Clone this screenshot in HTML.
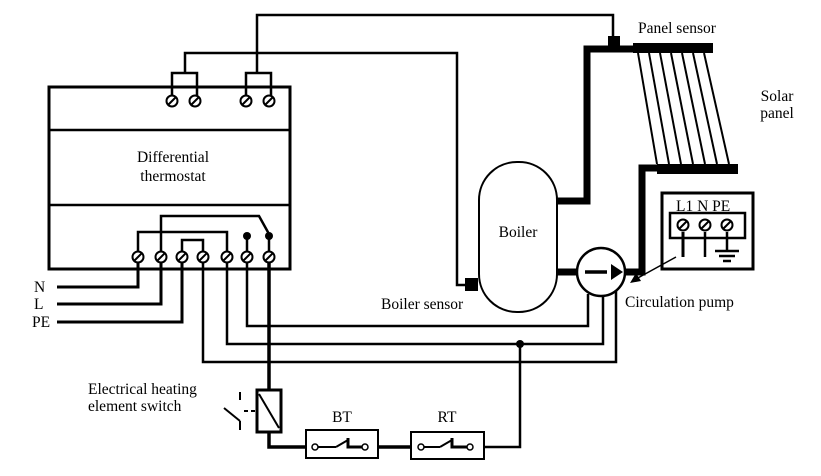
<!DOCTYPE html>
<html><head><style>body{margin:0;background:#fff}svg{display:block}text{font-family:"Liberation Serif",serif;font-size:15.5px;fill:#000}</style></head><body>
<svg width="821" height="476" viewBox="0 0 821 476" xmlns="http://www.w3.org/2000/svg">
<defs>
<g id="t"><circle cx="0" cy="0" r="5.5"/><line x1="-4" y1="4" x2="4" y2="-4"/></g>
</defs>
<g fill="none" stroke="#000" stroke-width="2.5">
<rect x="49" y="87" width="241" height="182" stroke-width="3"/>
<line x1="49" y1="130" x2="290" y2="130"/>
<line x1="49" y1="205" x2="290" y2="205"/>
<polyline points="172,101 172,73 197,73 197,101"/>
<polyline points="246,101 246,73 271,73 271,101"/>
<polyline points="185,73 185,53 457,53 457,285 466,285"/>
<polyline points="257,73 257,15 613,15 613,40"/>
<polyline points="138,257 138,232 227,232 227,257"/>
<polyline points="161,257 161,216 259,216 269,234"/>
<polyline points="182,257 182,240 203,240 203,257"/>
<line x1="247" y1="236" x2="247" y2="257"/>
<line x1="269" y1="236" x2="269" y2="257"/>
<polyline points="57,287 138,287 138,257" stroke-width="3"/>
<polyline points="57,304 161,304 161,257" stroke-width="3"/>
<polyline points="57,322 182,322 182,257" stroke-width="3"/>
<polyline points="247,257 247,326 588,326 588,294"/>
<polyline points="227,257 227,344 603,344 603,296"/>
<polyline points="203,257 203,362 616,362 616,290"/>
<line x1="269" y1="257" x2="269" y2="390" stroke-width="3.5"/>
<polyline points="269,432 269,447 306,447" stroke-width="3.5"/>
<line x1="378" y1="447" x2="411" y2="447" stroke-width="3.5"/>
<polyline points="484,447 520,447 520,344" stroke-width="2.5"/>
<rect x="257" y="390" width="24" height="42" stroke-width="3"/>
<line x1="259" y1="394" x2="279" y2="428" stroke-width="2"/>
<line x1="240" y1="400" x2="240" y2="392" stroke-width="2"/>
<line x1="224" y1="408" x2="240" y2="421" stroke-width="2"/>
<line x1="240" y1="421" x2="240" y2="430" stroke-width="2"/>
<line x1="244" y1="411" x2="256" y2="411" stroke-width="2" stroke-dasharray="4,3"/>
<rect x="306" y="430" width="72" height="28" stroke-width="2"/>
<rect x="411" y="432" width="73" height="27" stroke-width="2"/>
<line x1="318" y1="447" x2="336" y2="447" stroke-width="2"/>
<line x1="336" y1="447" x2="348" y2="440" stroke-width="2"/>
<polyline points="348,438 348,447 365,447" stroke-width="3"/>
<line x1="424" y1="447" x2="440" y2="447" stroke-width="2"/>
<line x1="440" y1="447" x2="452" y2="440" stroke-width="2"/>
<polyline points="452,438 452,447 468,447" stroke-width="3"/>
<rect x="479" y="162" width="78" height="150" rx="38" ry="38" stroke-width="2"/>
<polyline points="557,201 587,201 587,49 633,49" stroke-width="7"/>
<polyline points="557,272 578,272" stroke-width="7"/>
<polyline points="625,272 642,272 642,168 660,168" stroke-width="7"/>
<line x1="633" y1="48" x2="713" y2="48" stroke-width="10"/>
<line x1="657" y1="169" x2="738" y2="169" stroke-width="10"/>
<g stroke-width="2">
<line x1="638" y1="53" x2="657" y2="164"/>
<line x1="649" y1="53" x2="669" y2="164"/>
<line x1="660" y1="53" x2="681" y2="164"/>
<line x1="671" y1="53" x2="693" y2="164"/>
<line x1="682" y1="53" x2="705" y2="164"/>
<line x1="693" y1="53" x2="717" y2="164"/>
<line x1="704" y1="53" x2="729" y2="164"/>
</g>
<circle cx="601" cy="272" r="24" fill="#fff" stroke-width="2.5"/>
<line x1="585" y1="272" x2="607" y2="272" stroke-width="3.5"/>
<rect x="662" y="193" width="91" height="76" stroke-width="3"/>
<rect x="670" y="213" width="75" height="25" stroke-width="2.5"/>
<line x1="683" y1="232" x2="683" y2="257" stroke-width="3"/>
<line x1="705" y1="232" x2="705" y2="257" stroke-width="2.5"/>
<line x1="727" y1="232" x2="727" y2="251"/>
<line x1="715" y1="251" x2="739" y2="251"/>
<line x1="719" y1="256" x2="735" y2="256"/>
<line x1="723" y1="261" x2="731" y2="261"/>
<line x1="676" y1="257" x2="636" y2="279" stroke-width="1.5"/>
</g>
<polygon points="611,264 623,272 611,280" fill="#000"/>
<polygon points="630,283 636,273 641,281" fill="#000"/>
<rect x="465" y="278" width="13" height="13" fill="#000"/>
<rect x="608" y="36" width="12" height="13" fill="#000"/>
<circle cx="247" cy="236" r="4" fill="#000"/>
<circle cx="269" cy="236" r="4" fill="#000"/>
<circle cx="520" cy="344" r="4" fill="#000"/>
<g fill="#fff" stroke="#000" stroke-width="1.5">
<circle cx="315" cy="447" r="3"/><circle cx="365" cy="447" r="3"/>
<circle cx="421" cy="447" r="3"/><circle cx="470" cy="447" r="3"/>
</g>
<g fill="#fff" stroke="#000" stroke-width="2">
<use href="#t" x="172" y="101"/><use href="#t" x="195" y="101"/><use href="#t" x="246" y="101"/><use href="#t" x="269" y="101"/>
<use href="#t" x="138" y="257"/><use href="#t" x="161" y="257"/><use href="#t" x="182" y="257"/><use href="#t" x="203" y="257"/><use href="#t" x="227" y="257"/><use href="#t" x="247" y="257"/><use href="#t" x="269" y="257"/>
<use href="#t" x="683" y="225"/><use href="#t" x="705" y="225"/><use href="#t" x="727" y="225"/>
</g>
<text x="173" y="162" text-anchor="middle">Differential</text>
<text x="173" y="181" text-anchor="middle">thermostat</text>
<text x="518" y="237" text-anchor="middle">Boiler</text>
<text x="381" y="309">Boiler sensor</text>
<text x="638" y="33">Panel sensor</text>
<text x="777" y="101" text-anchor="middle">Solar</text>
<text x="777" y="118" text-anchor="middle">panel</text>
<text x="625" y="307">Circulation pump</text>
<text x="676" y="211">L1 N  PE</text>
<text x="34" y="292">N</text>
<text x="34" y="309">L</text>
<text x="32" y="327">PE</text>
<text x="88" y="394">Electrical heating</text>
<text x="88" y="411">element switch</text>
<text x="342" y="422" text-anchor="middle">BT</text>
<text x="447" y="422" text-anchor="middle">RT</text>
</svg>
</body></html>
